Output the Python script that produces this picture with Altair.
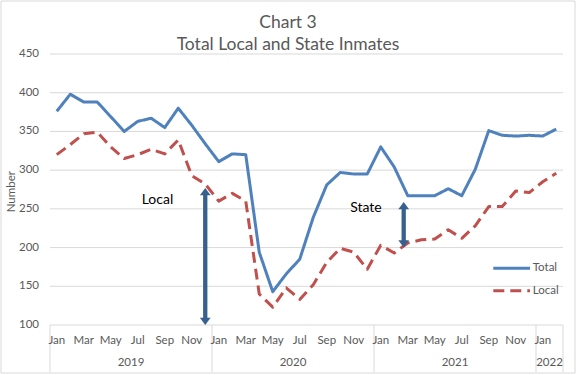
import altair as alt
import pandas as pd

# ---------------- data ----------------
month_names = ["Jan", "Feb", "Mar", "Apr", "May", "Jun", "Jul", "Aug", "Sep", "Oct", "Nov", "Dec"]
months = month_names * 3 + ["Jan", "Feb"]
years = ["2019"] * 12 + ["2020"] * 12 + ["2021"] * 12 + ["2022"] * 2

total = [376, 398, 388, 388, 369, 350, 363, 367, 355, 380, 358, 334,
         311, 321, 320, 194, 143, 166, 185, 239, 281, 297, 295, 295,
         330, 304, 267, 267, 267, 276, 267, 301, 351, 345, 344, 345,
         344, 353]
local = [320, 333, 347, 349, 330, 315, 320, 327, 321, 339, 293, 282,
         260, 270, 260, 140, 123, 148, 133, 152, 181, 199, 194, 172,
         203, 193, 206, 210, 211, 223, 212, 228, 253, 253, 273, 271,
         285, 296]

series_names = ["Total", "Local"]
series_colors = ["#4F81BD", "#C0504D"]
y_ticks = [100, 150, 200, 250, 300, 350, 400, 450]

title_lines = ["Chart 3", "Total Local and State Inmates"]
y_title = "Number"

# annotation arrows (x in month index, y in value units)
arrow_x = [11, 25.7]
arrow_lo = [100, 200]
arrow_hi = [277, 259]
ann_text = ["Local", "State"]
ann_x = [7.46, 22.9]
ann_y = [262, 251.5]

# ---------------- frames ----------------
n = len(months)
idx = list(range(n))
df = pd.DataFrame({
    "idx": idx * 2,
    "value": total + local,
    "series": ["Total"] * n + ["Local"] * n,
})

mdf = pd.DataFrame({"idx": idx, "month": months, "year": years})
month_lab = mdf[mdf["idx"] % 2 == 0]
yr = mdf.groupby("year", sort=False)["idx"].agg(["min", "max"]).reset_index()
yr["center"] = (yr["min"] + yr["max"]) / 2
bounds = pd.DataFrame({"b": [v - 0.5 for v in yr["min"]] + [yr["max"].iloc[-1] + 0.5]})
ticks_df = pd.DataFrame({"v": y_ticks, "label": [str(v) for v in y_ticks]})

arrows = pd.DataFrame({"x": arrow_x, "lo": arrow_lo, "hi": arrow_hi})
anns = pd.DataFrame({"x": ann_x, "y": ann_y, "text": ann_text})

W, H = 513, 271
FONT = "Lato"
GREY = "#595959"
LIGHT = "#D9D9D9"
ARROW = "#37608F"

xs = alt.Scale(domain=[-0.5, n - 0.5], nice=False, zero=False)
ys = alt.Scale(domain=[100, 450], nice=False, zero=False)
cs = alt.Scale(domain=series_names, range=series_colors)
ds = alt.Scale(domain=series_names, range=[[1, 0], [11, 6]])

grid = alt.Chart(ticks_df).mark_rule(color=LIGHT, strokeWidth=1).encode(
    y=alt.Y("v:Q", scale=ys, axis=None), x=alt.value(0), x2=alt.value(W)
)
ylabels = alt.Chart(ticks_df).mark_text(
    font=FONT, fontSize=11.5, color=GREY, align="right", baseline="middle"
).encode(y=alt.Y("v:Q", scale=ys, axis=None), x=alt.value(-11), text="label:N")

lines = alt.Chart(df).mark_line(strokeWidth=3, strokeJoin="round", strokeCap="butt").encode(
    x=alt.X("idx:Q", scale=xs, axis=None),
    y=alt.Y("value:Q", scale=ys, axis=None),
    color=alt.Color("series:N", scale=cs, legend=None),
    strokeDash=alt.StrokeDash("series:N", scale=ds, legend=None),
    detail="series:N",
)

month_text = alt.Chart(month_lab).mark_text(
    font=FONT, fontSize=11.5, color=GREY, baseline="middle", align="center"
).encode(x=alt.X("idx:Q", scale=xs, axis=None), y=alt.value(H + 15.7), text="month:N")

year_text = alt.Chart(yr).mark_text(
    font=FONT, fontSize=11.5, color=GREY, baseline="middle", align="center"
).encode(x=alt.X("center:Q", scale=xs, axis=None), y=alt.value(H + 38.3), text="year:N")

dividers = alt.Chart(bounds).mark_rule(color=LIGHT, strokeWidth=1).encode(
    x=alt.X("b:Q", scale=xs, axis=None), y=alt.value(H), y2=alt.value(H + 47)
)

shaft = alt.Chart(arrows).mark_rule(color=ARROW, strokeWidth=4.3, yOffset=-6, y2Offset=6).encode(
    x=alt.X("x:Q", scale=xs, axis=None), y=alt.Y("lo:Q", scale=ys, axis=None), y2="hi:Q"
)
head_up = alt.Chart(arrows).mark_point(
    shape="M0,0L1,1.35L-1,1.35Z", filled=True, size=115, color=ARROW, opacity=1, strokeWidth=0
).encode(x=alt.X("x:Q", scale=xs, axis=None), y=alt.Y("hi:Q", scale=ys, axis=None))
head_dn = alt.Chart(arrows).mark_point(
    shape="M0,0L1,-1.35L-1,-1.35Z", filled=True, size=115, color=ARROW, opacity=1, strokeWidth=0
).encode(x=alt.X("x:Q", scale=xs, axis=None), y=alt.Y("lo:Q", scale=ys, axis=None))

ann = alt.Chart(anns).mark_text(font=FONT, fontSize=14, color="#000000", baseline="middle").encode(
    x=alt.X("x:Q", scale=xs, axis=None), y=alt.Y("y:Q", scale=ys, axis=None), text="text:N"
)


def txt(text, x, y, **kw):
    return alt.Chart(pd.DataFrame({"t": [text]})).mark_text(font=FONT, **kw).encode(
        x=alt.value(x), y=alt.value(y), text="t:N")


title1 = txt(title_lines[0], 238, -31.3, fontSize=17.5, color=GREY, baseline="middle", align="center")
title2 = txt(title_lines[1], 238, -9, fontSize=17.5, color=GREY, baseline="middle", align="center")
ytitle = txt(y_title, -38.3, 137.7, fontSize=11.5, color=GREY, baseline="middle", align="center", angle=270)

leg_layers = []
leg_y = [214.3, 236.7]
for name, ly in zip(series_names, leg_y):
    ldf = pd.DataFrame({"series": [name]})
    leg_layers.append(
        alt.Chart(ldf).mark_rule(strokeWidth=3, strokeCap="butt").encode(
            x=alt.value(443.3), x2=alt.value(480), y=alt.value(ly),
            color=alt.Color("series:N", scale=cs, legend=None),
            strokeDash=alt.StrokeDash("series:N", scale=ds, legend=None))
    )
    leg_layers.append(
        alt.Chart(ldf).mark_text(font=FONT, fontSize=11.5, color=GREY, align="left", baseline="middle").encode(
            x=alt.value(482.7), y=alt.value(ly), text="series:N")
    )

border = alt.Chart(pd.DataFrame({"k": [0]})).mark_rect(fill=None, stroke=LIGHT, strokeWidth=1).encode(
    x=alt.value(-49), x2=alt.value(525), y=alt.value(-53), y2=alt.value(319)
)

chart = alt.layer(
    border, grid, ylabels, lines, dividers, month_text, year_text, shaft, head_up, head_dn, ann,
    title1, title2, ytitle, *leg_layers
).properties(
    width=W, height=H, autosize="none",
    padding={"left": 50, "top": 54, "right": 576 - 50 - W, "bottom": 375 - 54 - H},
    background="white",
).configure_view(stroke=None)

chart.save("out.html", embed_options={"renderer": "svg", "actions": False})
